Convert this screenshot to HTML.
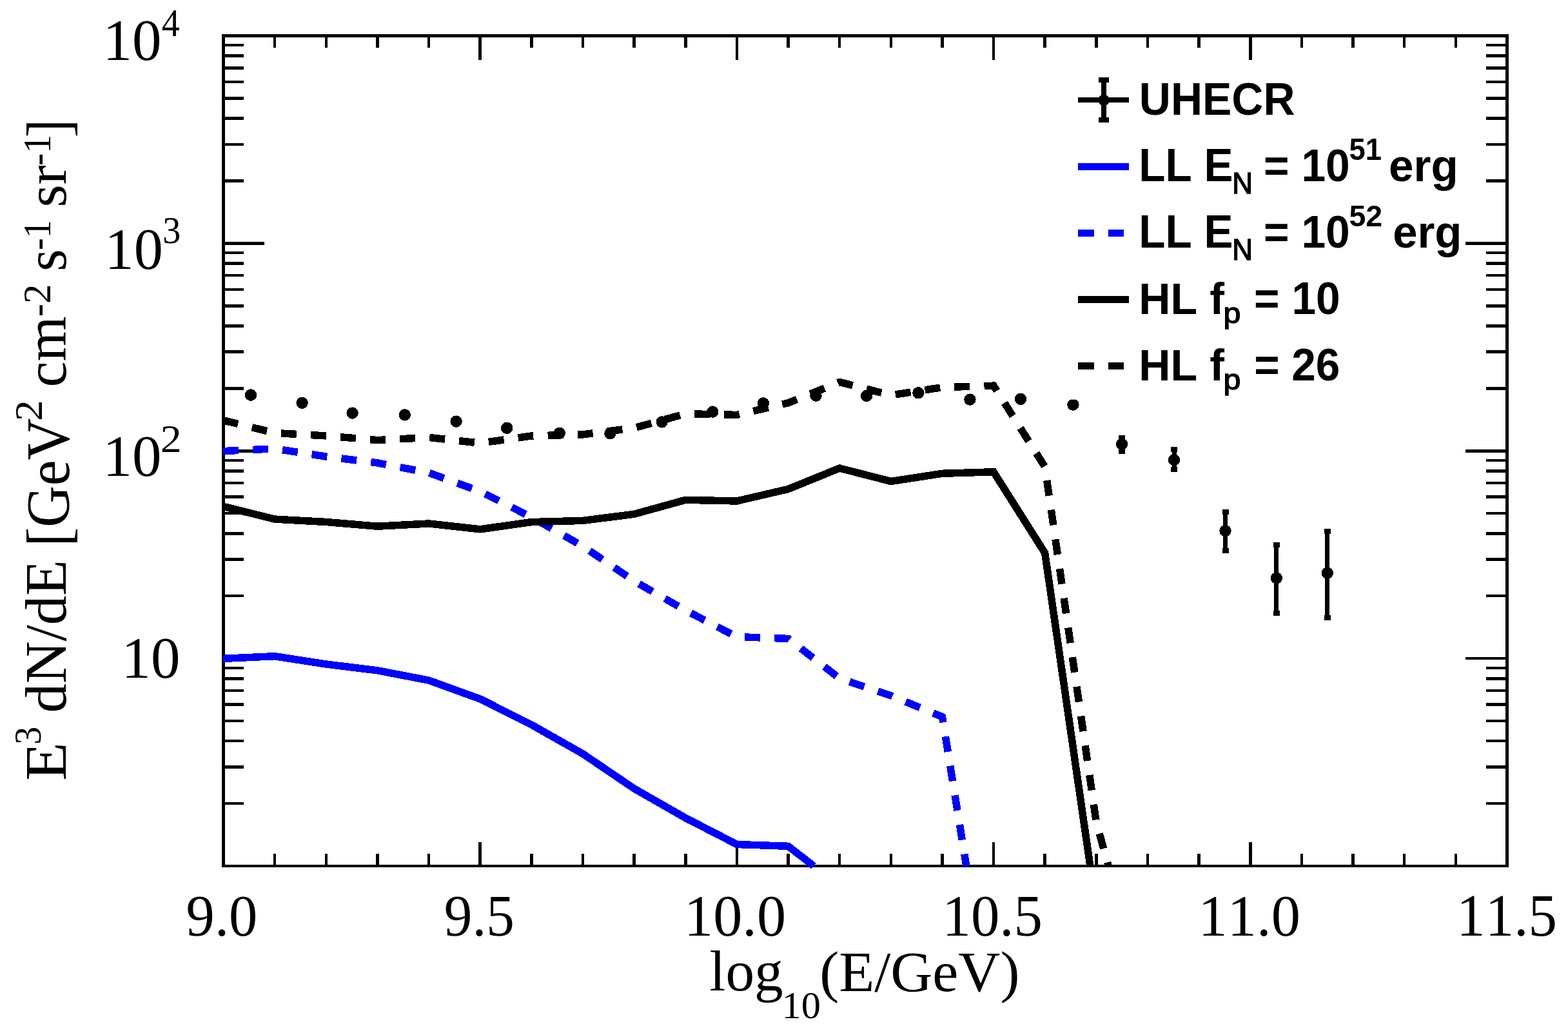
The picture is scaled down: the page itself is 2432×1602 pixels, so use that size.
<!DOCTYPE html>
<html lang="en"><head><meta charset="utf-8"><title>UHECR spectrum</title>
<style>html,body{margin:0;padding:0;background:#fff}svg{display:block}.sf{font-family:"Liberation Serif",serif;font-size:100px}.ss{font-family:"Liberation Sans",sans-serif;font-size:100px}text{fill:#000;white-space:pre;font-kerning:none}</style></head><body>
<svg width="2432" height="1602" viewBox="0 0 2432 1602">
<rect x="0" y="0" width="2432" height="1602" fill="#fff"/>
<g fill="#000" shape-rendering="crispEdges">
<rect x="344" y="53" width="5" height="1292"/>
<rect x="2335" y="53" width="5" height="1292"/>
<rect x="344" y="53" width="1996" height="5"/>
<rect x="344" y="1341" width="1996" height="4"/>
<rect x="423.89" y="55.5" width="4.5" height="18.5"/>
<rect x="423.89" y="1323.8" width="4.5" height="19.2"/>
<rect x="503.53" y="55.5" width="4.5" height="18.5"/>
<rect x="503.53" y="1323.8" width="4.5" height="19.2"/>
<rect x="583.17" y="55.5" width="4.5" height="18.5"/>
<rect x="583.17" y="1323.8" width="4.5" height="19.2"/>
<rect x="662.81" y="55.5" width="4.5" height="18.5"/>
<rect x="662.81" y="1323.8" width="4.5" height="19.2"/>
<rect x="742.45" y="55.5" width="4.5" height="37.0"/>
<rect x="742.45" y="1306.0" width="4.5" height="37.0"/>
<rect x="822.09" y="55.5" width="4.5" height="18.5"/>
<rect x="822.09" y="1323.8" width="4.5" height="19.2"/>
<rect x="901.73" y="55.5" width="4.5" height="18.5"/>
<rect x="901.73" y="1323.8" width="4.5" height="19.2"/>
<rect x="981.37" y="55.5" width="4.5" height="18.5"/>
<rect x="981.37" y="1323.8" width="4.5" height="19.2"/>
<rect x="1061.01" y="55.5" width="4.5" height="18.5"/>
<rect x="1061.01" y="1323.8" width="4.5" height="19.2"/>
<rect x="1140.65" y="55.5" width="4.5" height="37.0"/>
<rect x="1140.65" y="1306.0" width="4.5" height="37.0"/>
<rect x="1220.29" y="55.5" width="4.5" height="18.5"/>
<rect x="1220.29" y="1323.8" width="4.5" height="19.2"/>
<rect x="1299.93" y="55.5" width="4.5" height="18.5"/>
<rect x="1299.93" y="1323.8" width="4.5" height="19.2"/>
<rect x="1379.57" y="55.5" width="4.5" height="18.5"/>
<rect x="1379.57" y="1323.8" width="4.5" height="19.2"/>
<rect x="1459.21" y="55.5" width="4.5" height="18.5"/>
<rect x="1459.21" y="1323.8" width="4.5" height="19.2"/>
<rect x="1538.85" y="55.5" width="4.5" height="37.0"/>
<rect x="1538.85" y="1306.0" width="4.5" height="37.0"/>
<rect x="1618.49" y="55.5" width="4.5" height="18.5"/>
<rect x="1618.49" y="1323.8" width="4.5" height="19.2"/>
<rect x="1698.13" y="55.5" width="4.5" height="18.5"/>
<rect x="1698.13" y="1323.8" width="4.5" height="19.2"/>
<rect x="1777.77" y="55.5" width="4.5" height="18.5"/>
<rect x="1777.77" y="1323.8" width="4.5" height="19.2"/>
<rect x="1857.41" y="55.5" width="4.5" height="18.5"/>
<rect x="1857.41" y="1323.8" width="4.5" height="19.2"/>
<rect x="1937.05" y="55.5" width="4.5" height="37.0"/>
<rect x="1937.05" y="1306.0" width="4.5" height="37.0"/>
<rect x="2016.69" y="55.5" width="4.5" height="18.5"/>
<rect x="2016.69" y="1323.8" width="4.5" height="19.2"/>
<rect x="2096.33" y="55.5" width="4.5" height="18.5"/>
<rect x="2096.33" y="1323.8" width="4.5" height="19.2"/>
<rect x="2175.97" y="55.5" width="4.5" height="18.5"/>
<rect x="2175.97" y="1323.8" width="4.5" height="19.2"/>
<rect x="2255.61" y="55.5" width="4.5" height="18.5"/>
<rect x="2255.61" y="1323.8" width="4.5" height="19.2"/>
<rect x="346.5" y="1243.86" width="31.5" height="4.5"/>
<rect x="2305.3" y="1243.86" width="32.2" height="4.5"/>
<rect x="346.5" y="1187.18" width="31.5" height="4.5"/>
<rect x="2305.3" y="1187.18" width="32.2" height="4.5"/>
<rect x="346.5" y="1146.96" width="31.5" height="4.5"/>
<rect x="2305.3" y="1146.96" width="32.2" height="4.5"/>
<rect x="346.5" y="1115.77" width="31.5" height="4.5"/>
<rect x="2305.3" y="1115.77" width="32.2" height="4.5"/>
<rect x="346.5" y="1090.28" width="31.5" height="4.5"/>
<rect x="2305.3" y="1090.28" width="32.2" height="4.5"/>
<rect x="346.5" y="1068.73" width="31.5" height="4.5"/>
<rect x="2305.3" y="1068.73" width="32.2" height="4.5"/>
<rect x="346.5" y="1050.07" width="31.5" height="4.5"/>
<rect x="2305.3" y="1050.07" width="32.2" height="4.5"/>
<rect x="346.5" y="1033.60" width="31.5" height="4.5"/>
<rect x="2305.3" y="1033.60" width="32.2" height="4.5"/>
<rect x="346.5" y="1018.88" width="63.5" height="4.5"/>
<rect x="2273.3" y="1018.88" width="64.2" height="4.5"/>
<rect x="346.5" y="921.98" width="31.5" height="4.5"/>
<rect x="2305.3" y="921.98" width="32.2" height="4.5"/>
<rect x="346.5" y="865.30" width="31.5" height="4.5"/>
<rect x="2305.3" y="865.30" width="32.2" height="4.5"/>
<rect x="346.5" y="825.09" width="31.5" height="4.5"/>
<rect x="2305.3" y="825.09" width="32.2" height="4.5"/>
<rect x="346.5" y="793.89" width="31.5" height="4.5"/>
<rect x="2305.3" y="793.89" width="32.2" height="4.5"/>
<rect x="346.5" y="768.41" width="31.5" height="4.5"/>
<rect x="2305.3" y="768.41" width="32.2" height="4.5"/>
<rect x="346.5" y="746.86" width="31.5" height="4.5"/>
<rect x="2305.3" y="746.86" width="32.2" height="4.5"/>
<rect x="346.5" y="728.19" width="31.5" height="4.5"/>
<rect x="2305.3" y="728.19" width="32.2" height="4.5"/>
<rect x="346.5" y="711.73" width="31.5" height="4.5"/>
<rect x="2305.3" y="711.73" width="32.2" height="4.5"/>
<rect x="346.5" y="697.00" width="63.5" height="4.5"/>
<rect x="2273.3" y="697.00" width="64.2" height="4.5"/>
<rect x="346.5" y="600.11" width="31.5" height="4.5"/>
<rect x="2305.3" y="600.11" width="32.2" height="4.5"/>
<rect x="346.5" y="543.43" width="31.5" height="4.5"/>
<rect x="2305.3" y="543.43" width="32.2" height="4.5"/>
<rect x="346.5" y="503.21" width="31.5" height="4.5"/>
<rect x="2305.3" y="503.21" width="32.2" height="4.5"/>
<rect x="346.5" y="472.02" width="31.5" height="4.5"/>
<rect x="2305.3" y="472.02" width="32.2" height="4.5"/>
<rect x="346.5" y="446.53" width="31.5" height="4.5"/>
<rect x="2305.3" y="446.53" width="32.2" height="4.5"/>
<rect x="346.5" y="424.98" width="31.5" height="4.5"/>
<rect x="2305.3" y="424.98" width="32.2" height="4.5"/>
<rect x="346.5" y="406.32" width="31.5" height="4.5"/>
<rect x="2305.3" y="406.32" width="32.2" height="4.5"/>
<rect x="346.5" y="389.85" width="31.5" height="4.5"/>
<rect x="2305.3" y="389.85" width="32.2" height="4.5"/>
<rect x="346.5" y="375.12" width="63.5" height="4.5"/>
<rect x="2273.3" y="375.12" width="64.2" height="4.5"/>
<rect x="346.5" y="278.23" width="31.5" height="4.5"/>
<rect x="2305.3" y="278.23" width="32.2" height="4.5"/>
<rect x="346.5" y="221.55" width="31.5" height="4.5"/>
<rect x="2305.3" y="221.55" width="32.2" height="4.5"/>
<rect x="346.5" y="181.34" width="31.5" height="4.5"/>
<rect x="2305.3" y="181.34" width="32.2" height="4.5"/>
<rect x="346.5" y="150.14" width="31.5" height="4.5"/>
<rect x="2305.3" y="150.14" width="32.2" height="4.5"/>
<rect x="346.5" y="124.66" width="31.5" height="4.5"/>
<rect x="2305.3" y="124.66" width="32.2" height="4.5"/>
<rect x="346.5" y="103.11" width="31.5" height="4.5"/>
<rect x="2305.3" y="103.11" width="32.2" height="4.5"/>
<rect x="346.5" y="84.44" width="31.5" height="4.5"/>
<rect x="2305.3" y="84.44" width="32.2" height="4.5"/>
<rect x="346.5" y="67.98" width="31.5" height="4.5"/>
<rect x="2305.3" y="67.98" width="32.2" height="4.5"/>
</g>
<g fill="#000" shape-rendering="crispEdges">
<rect x="1736.6" y="675.1" width="7" height="28.9"/>
<rect x="1735.1" y="675.1" width="10" height="7.5"/>
<rect x="1735.1" y="696.5" width="10" height="7.5"/>
<rect x="1817.5" y="693.1" width="7" height="38.8"/>
<rect x="1816.0" y="693.1" width="10" height="7.5"/>
<rect x="1816.0" y="724.4" width="10" height="7.5"/>
<rect x="1897.0" y="790.0" width="7" height="67.9"/>
<rect x="1895.5" y="790.0" width="10" height="7.5"/>
<rect x="1895.5" y="850.4" width="10" height="7.5"/>
<rect x="1976.4" y="841.2" width="7" height="113.6"/>
<rect x="1974.9" y="841.2" width="10" height="7.5"/>
<rect x="1974.9" y="947.3" width="10" height="7.5"/>
<rect x="2055.3" y="820.0" width="7" height="141.9"/>
<rect x="2053.8" y="820.0" width="10" height="7.5"/>
<rect x="2053.8" y="954.4" width="10" height="7.5"/>
</g>
<clipPath id="flat"><rect x="1650" y="619.8" width="30" height="20"/></clipPath>
<g fill="#000" shape-rendering="crispEdges">
<circle cx="389.0" cy="612.6" r="9.2"/>
<circle cx="468.6" cy="624.8" r="9.2"/>
<circle cx="546.6" cy="640.6" r="9.2"/>
<circle cx="627.8" cy="643.4" r="9.2"/>
<circle cx="707.6" cy="653.6" r="9.2"/>
<circle cx="786.2" cy="663.8" r="9.2"/>
<circle cx="867.8" cy="671.7" r="9.2"/>
<circle cx="946.4" cy="672.3" r="9.2"/>
<circle cx="1026.7" cy="654.4" r="9.2"/>
<circle cx="1105.3" cy="638.6" r="9.2"/>
<circle cx="1183.9" cy="625.4" r="9.2"/>
<circle cx="1265.5" cy="613.6" r="9.2"/>
<circle cx="1344.1" cy="613.9" r="9.2"/>
<circle cx="1424.4" cy="609.3" r="9.2"/>
<circle cx="1504.4" cy="619.6" r="9.2"/>
<circle cx="1583.0" cy="618.9" r="9.2"/>
<circle cx="1664.4" cy="627.6" r="9.2" clip-path="url(#flat)"/>
<circle cx="1740.1" cy="688.8" r="9.2"/>
<circle cx="1821.0" cy="713.1" r="9.2"/>
<circle cx="1900.5" cy="823.2" r="9.2"/>
<circle cx="1979.9" cy="896.5" r="9.2"/>
<circle cx="2058.8" cy="888.7" r="9.2"/>
</g>
<g fill="none" stroke-width="11.5" stroke-linejoin="miter" stroke-linecap="butt" shape-rendering="crispEdges">
<polyline stroke="#00f" points="345.9,1021.4 426.1,1017.7 505.8,1030.0 585.4,1039.8 665.1,1055.1 744.7,1084.0 824.3,1123.9 904.0,1169.0 983.6,1223.0 1063.3,1268.5 1142.9,1309.5 1222.5,1312.3 1262.2,1343.0"/>
<polyline stroke="#00f" stroke-dasharray="24 22.17" points="345.9,699.6 426.1,695.8 505.8,708.1 585.4,717.9 665.1,733.2 744.7,762.1 824.3,802.0 904.0,847.1 983.6,901.1 1063.3,946.6 1142.9,987.6 1222.5,990.4 1302.2,1052.1 1381.8,1078.8 1461.5,1111.7 1498.8,1343.0"/>
<polyline stroke="#000" points="345.9,785.3 426.1,805.1 505.8,809.5 585.4,816.2 665.1,812.0 744.7,820.8 824.3,809.6 904.0,807.4 983.6,797.3 1063.3,775.3 1142.9,777.0 1222.5,758.5 1302.2,726.1 1381.8,746.5 1461.5,734.3 1541.1,731.8 1620.7,857.6 1690.9,1343.0"/>
<polyline stroke="#000" stroke-dasharray="24 22.17" points="345.9,651.7 426.1,671.5 505.8,675.9 585.4,682.6 665.1,678.4 744.7,687.2 824.3,676.0 904.0,673.8 983.6,663.7 1063.3,641.7 1142.9,643.4 1222.5,624.9 1302.2,592.5 1381.8,612.9 1461.5,600.7 1541.1,598.2 1620.7,724.0 1700.4,1275.3 1719.2,1343.0"/>
</g>
<g shape-rendering="crispEdges">
<rect x="1672" y="151" width="79" height="8" fill="#000"/>
<rect x="1708" y="120" width="8" height="70" fill="#000"/>
<rect x="1704" y="120" width="16" height="8" fill="#000"/>
<rect x="1704" y="182" width="16" height="8" fill="#000"/>
<rect x="1672" y="253" width="79" height="11" fill="#00f"/>
<rect x="1672" y="356" width="25" height="11" fill="#00f"/><rect x="1719" y="356" width="24" height="11" fill="#00f"/>
<rect x="1672" y="459" width="79" height="11" fill="#000"/>
<rect x="1672" y="562" width="25" height="11" fill="#000"/><rect x="1719" y="562" width="24" height="11" fill="#000"/>
</g>
<circle cx="1712" cy="155.2" r="8.8" fill="#000"/>
<g>
<text class="sf" transform="matrix(0.9102 0 0 0.9200 159.49 92.98)">10</text>
<text class="sf" transform="matrix(0.5613 0 0 0.6068 250.78 55.70)">4</text>
<text class="sf" transform="matrix(0.9030 0 0 0.9170 162.48 416.98)">10</text>
<text class="sf" transform="matrix(0.5624 0 0 0.5993 252.33 376.50)">3</text>
<text class="sf" transform="matrix(0.9102 0 0 0.9200 159.49 737.98)">10</text>
<text class="sf" transform="matrix(0.6600 0 0 0.6098 248.83 701.20)">2</text>
<text class="sf" transform="matrix(0.9102 0 0 0.9126 188.49 1050.89)">10</text>
<text class="sf" transform="matrix(0.8864 0 0 0.9147 288.62 1450.63)">9.0</text>
<text class="sf" transform="matrix(0.8730 0 0 0.9181 688.76 1450.62)">9.5</text>
<text class="sf" transform="matrix(0.9028 0 0 0.9147 1061.09 1450.63)">10.0</text>
<text class="sf" transform="matrix(0.8892 0 0 0.9147 1461.45 1450.63)">10.5</text>
<text class="sf" transform="matrix(0.9049 0 0 0.9147 1858.53 1450.63)">11.0</text>
<text class="sf" transform="matrix(0.8892 0 0 0.9215 2259.25 1450.62)">11.5</text>
<text class="sf" transform="matrix(0.8929 0 0 0.8923 1100.61 1536.12)">log</text>
<text class="sf" transform="matrix(0.6039 0 0 0.5822 1212.47 1579.42)">10</text>
<text class="sf" transform="matrix(0.9010 0 0 0.8895 1271.25 1536.90)">(E/GeV)</text>
<text class="ss" font-weight="700" transform="matrix(0.6797 0 0 0.7053 1766.82 178.09)">UHECR</text>
<text class="ss" font-weight="700" transform="matrix(0.6748 0 0 0.7142 1766.35 281.10)">LL E</text>
<text class="ss" stroke="#000" stroke-width="3.11" stroke-linejoin="miter" transform="matrix(0.4395 0 0 0.4596 1911.17 300.20)">N</text>
<text class="ss" font-weight="700" transform="matrix(0.6772 0 0 0.7067 1960.02 281.29)">= 10</text>
<text class="ss" font-weight="700" transform="matrix(0.4532 0 0 0.4731 2092.53 247.53)">51</text>
<text class="ss" font-weight="700" transform="matrix(0.6924 0 0 0.6987 2153.93 281.35)">erg</text>
<text class="ss" font-weight="700" transform="matrix(0.6748 0 0 0.7142 1766.35 384.10)">LL E</text>
<text class="ss" stroke="#000" stroke-width="3.11" stroke-linejoin="miter" transform="matrix(0.4395 0 0 0.4596 1911.17 403.20)">N</text>
<text class="ss" font-weight="700" transform="matrix(0.6772 0 0 0.7067 1960.02 384.29)">= 10</text>
<text class="ss" font-weight="700" transform="matrix(0.4654 0 0 0.4678 2092.49 350.63)">52</text>
<text class="ss" font-weight="700" transform="matrix(0.6897 0 0 0.6987 2160.14 384.25)">erg</text>
<text class="ss" font-weight="700" transform="matrix(0.6823 0 0 0.6924 1766.29 487.00)">HL f</text>
<text class="ss" stroke="#000" stroke-width="3.03" stroke-linejoin="miter" transform="matrix(0.4844 0 0 0.4389 1897.45 501.09)">p</text>
<text class="ss" font-weight="700" transform="matrix(0.6767 0 0 0.7067 1945.12 487.19)">= 10</text>
<text class="ss" font-weight="700" transform="matrix(0.6823 0 0 0.6924 1766.29 590.00)">HL f</text>
<text class="ss" stroke="#000" stroke-width="3.03" stroke-linejoin="miter" transform="matrix(0.4844 0 0 0.4389 1897.45 604.09)">p</text>
<text class="ss" font-weight="700" transform="matrix(0.6749 0 0 0.7067 1945.13 590.19)">= 26</text>
</g>
<g transform="translate(0 1207.9) rotate(-90)">
<text class="sf" transform="matrix(0.9736 0 0 0.9145 -2.92 102.00)">E</text>
<text class="sf" transform="matrix(0.5576 0 0 0.5978 53.15 62.60)">3</text>
<text class="sf" transform="matrix(0.9085 0 0 0.9092 102.42 102.39)">dN/dE</text>
<text class="sf" transform="matrix(0.8965 0 0 0.9506 360.08 107.17)">[GeV</text>
<text class="sf" transform="matrix(0.6550 0 0 0.6068 554.95 65.10)">2</text>
<text class="sf" transform="matrix(0.9011 0 0 0.9042 607.52 102.40)">cm</text>
<text class="sf" transform="matrix(0.6081 0 0 0.6068 716.72 78.10)">-2</text>
<text class="sf" transform="matrix(0.8832 0 0 0.9042 787.07 102.40)">s</text>
<text class="sf" transform="matrix(0.5633 0 0 0.6091 819.89 78.10)">-1</text>
<text class="sf" transform="matrix(0.9041 0 0 0.8995 886.38 102.40)">sr</text>
<text class="sf" transform="matrix(0.5811 0 0 0.6091 950.92 78.10)">-1</text>
<text class="sf" transform="matrix(0.8489 0 0 0.9506 994.73 107.17)">]</text>
</g>
</svg></body></html>
